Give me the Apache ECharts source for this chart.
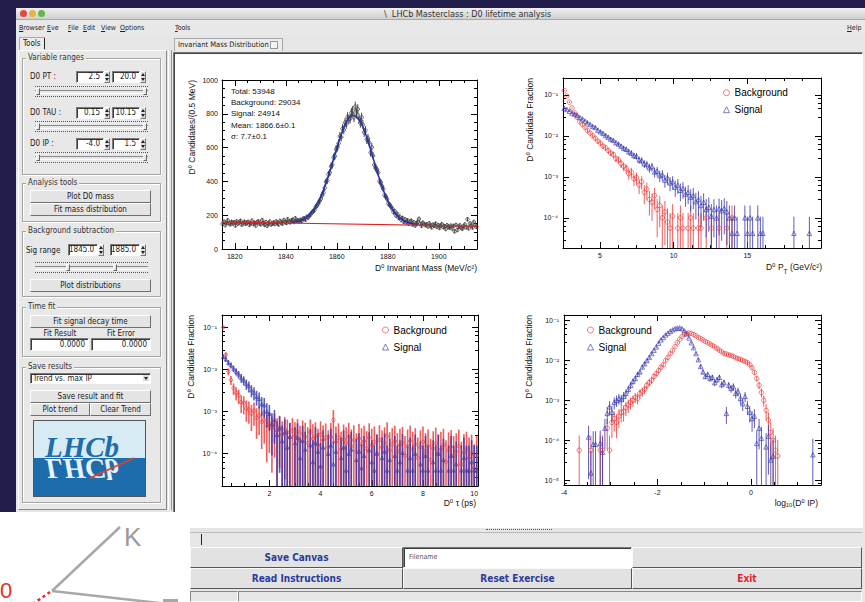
<!DOCTYPE html>
<html>
<head>
<meta charset="utf-8">
<title>LHCb Masterclass : D0 lifetime analysis</title>
<script src="https://cdn.jsdelivr.net/npm/echarts@6/dist/echarts.min.js"></script>
<style>
	body { margin: 0; width: 865px; height: 602px; position: relative; overflow: hidden; background: #221d4b;
		font-family: "Liberation Sans Narrow", "DejaVu Sans Condensed", "Liberation Sans", sans-serif; font-size: 8px; color: #222; }
	.abs { position: absolute; box-sizing: border-box; }
	.menu { position: absolute; top: 23px; line-height: 10px; font-size: 7px; color: #222; }
	.grp { position: absolute; box-sizing: border-box; border: 1px solid #a4a4a4; box-shadow: inset 1px 1px 0 #fff, 1px 1px 0 #fff; }
	.grp > span { position: absolute; top: -6px; left: 3px; background: #e8e8e8; padding: 0 2px; line-height: 10px; color: #333; }
	.btn { position: absolute; box-sizing: border-box; background: #e4e4e4; border: 1px solid; border-color: #fff #6e6e6e #6e6e6e #fff;
		text-align: center; color: #222; }
	.inp { position: absolute; box-sizing: border-box; background: #fff; border: 1px solid; border-color: #7a7a7a #fff #fff #7a7a7a;
		box-shadow: inset 1px 1px 0 #3c3c3c; text-align: right; padding-right: 3px; color: #222; }
	.spin { position: absolute; box-sizing: border-box; width: 6px; background: #e0e0e0; border: 1px solid; border-color: #fff #777 #777 #fff; }
	.spin::before, .spin::after { content: ""; position: absolute; left: 0; border-left: 2px solid transparent; border-right: 2px solid transparent; }
	.spin::before { top: 1px; border-bottom: 3px solid #222; }
	.spin::after { bottom: 1px; border-top: 3px solid #222; }
	.slider { position: absolute; height: 11px; border-top: 1px dotted #555; border-bottom: 1px dotted #555; box-sizing: border-box; }
	.slider::before { content: ""; position: absolute; left: 0; right: 0; top: 3px; height: 2px; border-top: 1px solid #888; border-bottom: 1px solid #fff; }
	.thumb { position: absolute; top: 1px; width: 4px; height: 7px; background: #e6e6e6; border: 1px solid; border-color: #fff #666 #666 #fff; box-sizing: border-box; }
	.bigbtn { position: absolute; box-sizing: border-box; background: #e2e2e2; border: 1px solid; border-color: #fafafa #555 #555 #fafafa;
		text-align: center; font-weight: bold; font-size: 10px; color: #2b3a9e; line-height: 19px; }
	.pad { position: absolute; }
</style>
</head>
<body>

<!-- window frame -->
<div class="abs" style="left:16px;top:8px;width:849px;height:594px;background:#e6e6e6"></div>
<div class="abs" style="left:16px;top:8px;width:849px;height:12px;background:linear-gradient(#efefef,#cfcfcf);border-bottom:1px solid #a8a8a8"></div>
<div class="abs" style="left:20px;top:10px;width:7px;height:7px;border-radius:50%;background:#e1493f"></div>
<div class="abs" style="left:29px;top:10px;width:7px;height:7px;border-radius:50%;background:#e6b43a"></div>
<div class="abs" style="left:38px;top:10px;width:7px;height:7px;border-radius:50%;background:#62b84c"></div>
<div class="abs" style="left:384px;top:9px;font-size:9px;line-height:10px;color:#333">\ &nbsp;LHCb Masterclass : D0 lifetime analysis</div>

<!-- menu bar -->
<div class="abs" style="left:16px;top:20px;width:849px;height:15px;background:#e8e8e8"></div>
<div class="menu" style="left:19px"><u>B</u>rowser</div>
<div class="menu" style="left:47px"><u>E</u>ve</div>
<div class="menu" style="left:68px"><u>F</u>ile</div>
<div class="menu" style="left:83px"><u>E</u>dit</div>
<div class="menu" style="left:101px"><u>V</u>iew</div>
<div class="menu" style="left:120px"><u>O</u>ptions</div>
<div class="menu" style="left:175px"><u>T</u>ools</div>
<div class="menu" style="left:847px"><u>H</u>elp</div>

<!-- left tool panel -->
<div class="abs" style="left:19px;top:37px;width:26px;height:13px;background:#ececec;border:1px solid #aaa;border-bottom:none;padding-left:3px;line-height:11px">Tools</div>
<div class="abs" style="left:44px;top:38px;width:1px;height:11px;background:#222"></div>
<div class="abs" style="left:18px;top:50px;width:149px;height:460px;background:#e8e8e8;border:1px solid;border-color:#fff #888 #888 #fff"></div>

<div class="grp" style="left:22px;top:58px;width:139px;height:117px"><span>Variable ranges</span></div>
<div class="abs" style="left:30px;top:72px;line-height:10px">D0 PT :</div>
<div class="inp" style="left:76px;top:71px;width:28px;height:12px;line-height:10px">2.5</div><div class="spin" style="left:104px;top:71px;height:12px"></div>
<div class="inp" style="left:112px;top:71px;width:28px;height:12px;line-height:10px">20.0</div><div class="spin" style="left:140px;top:71px;height:12px"></div>
<div class="slider" style="left:35px;top:86px;width:113px"><div class="thumb" style="left:1px"></div><div class="thumb" style="right:1px"></div></div>
<div class="abs" style="left:30px;top:108px;line-height:10px">D0 TAU :</div>
<div class="inp" style="left:76px;top:107px;width:28px;height:12px;line-height:10px">0.15</div><div class="spin" style="left:104px;top:107px;height:12px"></div>
<div class="inp" style="left:112px;top:107px;width:28px;height:12px;line-height:10px">10.15</div><div class="spin" style="left:140px;top:107px;height:12px"></div>
<div class="slider" style="left:35px;top:121px;width:113px"><div class="thumb" style="left:1px"></div><div class="thumb" style="right:1px"></div></div>
<div class="abs" style="left:30px;top:139px;line-height:10px">D0 IP :</div>
<div class="inp" style="left:76px;top:138px;width:28px;height:12px;line-height:10px">-4.0</div><div class="spin" style="left:104px;top:138px;height:12px"></div>
<div class="inp" style="left:112px;top:138px;width:28px;height:12px;line-height:10px">1.5</div><div class="spin" style="left:140px;top:138px;height:12px"></div>
<div class="slider" style="left:35px;top:152px;width:113px"><div class="thumb" style="left:1px"></div><div class="thumb" style="right:1px"></div></div>

<div class="grp" style="left:22px;top:183px;width:139px;height:39px"><span>Analysis tools</span></div>
<div class="btn" style="left:30px;top:190px;width:121px;height:13px;line-height:11px">Plot D0 mass</div>
<div class="btn" style="left:30px;top:203px;width:121px;height:13px;line-height:11px">Fit mass distribution</div>

<div class="grp" style="left:22px;top:231px;width:139px;height:66px"><span>Background subtraction</span></div>
<div class="abs" style="left:26px;top:246px;line-height:10px">Sig range</div>
<div class="inp" style="left:68px;top:244px;width:30px;height:12px;line-height:10px">1845.0</div><div class="spin" style="left:98px;top:244px;height:12px"></div>
<div class="inp" style="left:110px;top:244px;width:30px;height:12px;line-height:10px">1885.0</div><div class="spin" style="left:140px;top:244px;height:12px"></div>
<div class="slider" style="left:35px;top:262px;width:113px"><div class="thumb" style="left:31px"></div><div class="thumb" style="left:78px"></div></div>
<div class="btn" style="left:30px;top:279px;width:121px;height:13px;line-height:11px">Plot distributions</div>

<div class="grp" style="left:22px;top:307px;width:139px;height:50px"><span>Time fit</span></div>
<div class="btn" style="left:30px;top:315px;width:121px;height:13px;line-height:11px">Fit signal decay time</div>
<div class="abs" style="left:30px;top:329px;width:60px;text-align:center;line-height:9px">Fit Result</div>
<div class="abs" style="left:91px;top:329px;width:60px;text-align:center;line-height:9px">Fit Error</div>
<div class="inp" style="left:30px;top:338px;width:59px;height:13px;line-height:11px">0.0000</div>
<div class="inp" style="left:91px;top:338px;width:60px;height:13px;line-height:11px">0.0000</div>

<div class="grp" style="left:22px;top:367px;width:139px;height:136px"><span>Save results</span></div>
<div class="inp" style="left:30px;top:373px;width:121px;height:11px;line-height:9px;text-align:left;padding-left:2px">Trend vs. max IP</div>
<div class="abs" style="left:143px;top:375px;width:6px;height:6px;background:#ddd"><div class="abs" style="left:1px;top:2px;border-left:2px solid transparent;border-right:2px solid transparent;border-top:3px solid #222"></div></div>
<div class="btn" style="left:30px;top:390px;width:121px;height:13px;line-height:11px">Save result and fit</div>
<div class="btn" style="left:30px;top:403px;width:60px;height:13px;line-height:11px">Plot trend</div>
<div class="btn" style="left:90px;top:403px;width:61px;height:13px;line-height:11px">Clear Trend</div>
<svg class="abs" style="left:33px;top:420px" width="113" height="77">
	<rect x="0.5" y="0.5" width="112" height="76" fill="#d7ebf5" stroke="#555"/>
	<rect x="1" y="38" width="111" height="38" fill="#1d6dad"/>
	<text x="12" y="37" font-family="Liberation Serif, DejaVu Serif, serif" font-style="italic" font-weight="bold" font-size="29" fill="#1d6dad">LHCb</text>
	<text x="12" y="37" transform="matrix(1,0,0,-1,0,76)" font-family="Liberation Serif, DejaVu Serif, serif" font-style="italic" font-weight="bold" font-size="29" fill="#e8f2f8">LHCb</text>
	<line x1="57" y1="58" x2="101" y2="38" stroke="#e2402c" stroke-width="1.6"/>
</svg>

<!-- splitter -->
<div class="abs" style="left:168px;top:50px;width:4px;height:460px;border-left:1px solid #fff;border-right:1px solid #999"></div>

<!-- main tab + canvas -->
<div class="abs" style="left:174px;top:38px;width:109px;height:13px;background:#ececec;border:1px solid #aaa;border-bottom:none;padding-left:3px;line-height:11px;font-size:7.5px">Invariant Mass Distribution</div>
<div class="abs" style="left:270px;top:41px;width:8px;height:8px;border:1px solid #999;background:#f4f4f4"></div>
<div class="abs" style="left:173px;top:52px;width:690px;height:476px;background:#fff;border:1px solid;border-color:#7a7a7a #fff #fff #7a7a7a;box-shadow:inset 1px 1px 0 #444"></div>
<div id="padMass" class="pad" style="left:174px;top:55px;width:343px;height:235px"></div>
<div id="padPt" class="pad" style="left:517px;top:55px;width:344px;height:235px"></div>
<div id="padTau" class="pad" style="left:174px;top:290px;width:343px;height:236px"></div>
<div id="padIp" class="pad" style="left:517px;top:290px;width:344px;height:236px"></div>

<!-- lower GUI strip -->
<div class="abs" style="left:486px;top:529px;width:66px;height:3px;border-top:1px dotted #555"></div>
<div class="abs" style="left:190px;top:532px;width:672px;height:14px;border-top:1px solid #bbb"></div>
<div class="abs" style="left:201px;top:534px;width:1px;height:11px;background:#222"></div>
<div class="bigbtn" style="left:190px;top:547px;width:213px;height:21px">Save Canvas</div>
<div class="inp" style="left:403px;top:547px;width:229px;height:21px;text-align:left;padding-left:5px;line-height:19px;font-size:7px;color:#555">Filename</div>
<div class="bigbtn" style="left:632px;top:547px;width:230px;height:21px"></div>
<div class="bigbtn" style="left:190px;top:568px;width:213px;height:21px">Read Instructions</div>
<div class="bigbtn" style="left:403px;top:568px;width:229px;height:21px">Reset Exercise</div>
<div class="bigbtn" style="left:632px;top:568px;width:230px;height:21px;color:#e3222b">Exit</div>
<div class="abs" style="left:190px;top:591px;width:48px;height:11px;border:1px solid;border-color:#888 #fff #fff #888"></div>
<div class="abs" style="left:238px;top:591px;width:624px;height:11px;border:1px solid;border-color:#888 #fff #fff #888"></div>

<!-- slide fragment in the lower left corner -->
<svg class="abs" style="left:0;top:512px" width="190" height="90">
	<rect width="190" height="90" fill="#fff"/>
	<line x1="52" y1="79" x2="120" y2="15" stroke="#a8a8a8" stroke-width="2.5"/>
	<line x1="52" y1="79" x2="168" y2="92" stroke="#a8a8a8" stroke-width="2.5"/>
	<line x1="50" y1="80" x2="30" y2="94" stroke="#e03030" stroke-width="2.5" stroke-dasharray="3 3"/>
	<text x="124" y="34" font-family="Liberation Sans, sans-serif" font-size="26" fill="#9a9a9a">K</text>
	<text x="0" y="86" font-family="Liberation Sans, sans-serif" font-size="22" fill="#e03030">0</text>
	<rect x="163" y="87" width="15" height="3" fill="#a8a8a8"/>
</svg>

<script>
// ---- values ----

// D0 invariant mass, 0.5 MeV bins from 1815 to 1915
const massStart = 1815
const massBinWidth = 0.5
const massCounts = [
	148, 162, 141, 155, 170, 152, 146, 160, 151, 158, 139, 163, 150, 157, 166, 144, 153, 161, 149, 156,
	160, 143, 152, 167, 148, 155, 139, 158, 164, 150, 146, 171, 153, 142, 159, 137, 151, 162, 145, 149,
	157, 148, 163, 152, 145, 166, 158, 150, 171, 160, 154, 176, 162, 158, 169, 173, 160, 181, 166, 170,
	163, 172, 166, 178, 181, 174, 190, 186, 197, 205, 216, 223, 231, 249, 256, 270, 283, 297, 318, 334,
	361, 397, 405, 441, 452, 489, 498, 541, 549, 590, 601, 625, 667, 662, 712, 705, 748, 739, 781, 768,
	771, 806, 818, 779, 843, 801, 828, 772, 745, 779, 736, 690, 701, 648, 655, 629, 571, 602, 552, 497,
	479, 471, 452, 401, 396, 372, 355, 318, 311, 296, 269, 262, 251, 239, 218, 224, 198, 207, 185, 190,
	172, 183, 161, 176, 158, 170, 149, 163, 167, 145, 158, 139, 152, 161, 178, 150, 137, 156, 148, 141,
	146, 133, 152, 139, 128, 144, 137, 150, 131, 142, 124, 139, 147, 129, 135, 118, 141, 132, 126, 138,
	121, 137, 104, 143, 112, 131, 140, 126, 119, 134, 145, 128, 176, 122, 151, 139, 127, 160, 142, 131,
]
const massFitX = [1842, 1844, 1846, 1848, 1850, 1852, 1854, 1856, 1858, 1860, 1862, 1864, 1866,
	1868, 1870, 1872, 1874, 1876, 1878, 1880, 1882, 1884, 1886, 1888, 1890, 1892]
const massFitY = [157, 161, 170, 187, 214, 258, 319, 400, 495, 596, 688, 757, 790,
	781, 731, 650, 551, 451, 360, 286, 231, 193, 169, 155, 148, 144]
const massBkgX = [1815, 1915]
const massBkgY = [160, 135]
const massStats = ["Total: 53948", "Background: 29034", "Signal: 24914", "Mean: 1866.6\u00b10.1", "\u03c3: 7.7\u00b10.1"]

// D0 pT, 0.175 GeV bins from 2.5
const ptStart = 2.5
const ptBinWidth = 0.175
const ptBkg = [
	0.126, 9.3e-2, 6.6e-2, 4.8e-2, 3.6e-2, 2.8e-2, 2.2e-2, 1.9e-2, 1.6e-2, 1.35e-2,
	1.17e-2, 1.0e-2, 8.7e-3, 7.4e-3, 6.6e-3, 5.6e-3, 5.1e-3, 4.4e-3, 3.8e-3, 3.5e-3,
	2.8e-3, 2.6e-3, 2.1e-3, 1.8e-3, 1.6e-3, 1.2e-3, 1.3e-3, 8.9e-4, 9.5e-4, 6.3e-4,
	7.6e-4, 4.2e-4, 5.0e-4, 2.8e-4, 2.4e-4, 3.5e-4, 1.6e-4, 2.0e-4, 1.0e-4, 1.4e-4,
	7.9e-5, 5.6e-5, 1.1e-4, null, 5.6e-5, 1.0e-4, 5.6e-5, null, 5.6e-5, 1.0e-4,
	5.6e-5, null, 5.6e-5, 5.6e-5, null, 1.0e-4, null, 5.6e-5, null, null,
	5.6e-5, null, null, 5.6e-5, null, 1.0e-4,
]
const ptSig = [
	4.7e-2, 4.4e-2, 4.0e-2, 3.6e-2, 3.4e-2, 3.2e-2, 2.8e-2, 2.6e-2, 2.3e-2, 2.1e-2,
	1.9e-2, 1.7e-2, 1.6e-2, 1.38e-2, 1.26e-2, 1.15e-2, 1.02e-2, 9.3e-3, 8.3e-3, 7.8e-3,
	6.8e-3, 6.3e-3, 5.6e-3, 5.0e-3, 4.7e-3, 4.1e-3, 3.8e-3, 3.3e-3, 3.2e-3, 2.6e-3,
	2.5e-3, 2.1e-3, 2.0e-3, 1.66e-3, 1.78e-3, 1.32e-3, 1.38e-3, 1.07e-3, 1.12e-3, 8.3e-4,
	9.5e-4, 7.1e-4, 7.6e-4, 5.6e-4, 6.3e-4, 4.7e-4, 5.2e-4, 3.8e-4, 4.2e-4, 3.2e-4,
	3.5e-4, 2.5e-4, 2.8e-4, 2.0e-4, 2.4e-4, 1.6e-4, 1.8e-4, 1.1e-4, 1.6e-4, 1.0e-4,
	1.66e-4, 1.5e-4, 1.7e-4, 1.4e-4, 1.0e-4, 4.2e-5, 1.0e-4, 4.2e-5, null, null,
	1.0e-4, 4.2e-5, 1.0e-4, 4.2e-5, null, 1.0e-4, 4.2e-5, 4.2e-5, null, null,
	null, null, null, null, null, null, null, null, null, 4.2e-5,
	null, null, null, null, null, 4.2e-5,
]

// D0 decay time, 0.1 ps bins from 0.15
const tauStart = 0.15
const tauBinWidth = 0.1
const tauBkg = [
	1.0e-1, 2.24e-2, 8.9e-3, 5.6e-3, 3.55e-3, 2.8e-3, 2.4e-3, 1.66e-3, 1.58e-3, 1.2e-3,
	1.12e-3, 8.9e-4, 1.05e-3, 7.1e-4, 7.9e-4, 5.6e-4, 6.3e-4, 4.5e-4, 5.2e-4, 4.0e-4,
	4.8e-4, 3.5e-4, 4.2e-4, 2.8e-4, 3.8e-4, 3.2e-4, 2.4e-4, 3.5e-4, 2.6e-4, 3.3e-4,
	2.0e-4, 3.0e-4, 2.5e-4, 1.78e-4, 3.2e-4, 2.24e-4, 2.6e-4, 1.58e-4, 2.8e-4, 2.1e-4,
	2.4e-4, 1.41e-4, 2.5e-4, 6.3e-4, 1.9e-4, 2.4e-4, 1.26e-4, 2.2e-4, 1.78e-4, 2.5e-4,
	1.5e-4, 2.1e-4, 1.12e-4, 2.3e-4, 1.66e-4, 2.0e-4, 1.32e-4, 2.4e-4, 1.58e-4, 1.9e-4,
	1.0e-4, 2.1e-4, 1.41e-4, 1.78e-4, 2.6e-4, 1.2e-4, 1.66e-4, 2.0e-4, 1.12e-4, 1.58e-4,
	1.82e-4, 8.9e-5, 1.5e-4, 2.0e-4, 1.26e-4, 1.66e-4, 7.9e-5, 1.41e-4, 1.9e-4, 1.12e-4,
	1.5e-4, 7.1e-5, 1.32e-4, 1.74e-4, 1.0e-4, 1.26e-4, 1.58e-4, 6.3e-5, 1.2e-4, 1.45e-4,
	8.9e-5, 1.12e-4, 1.5e-4, 5.6e-5, 1.05e-4, 1.26e-4, 7.9e-5, 1.0e-4, 4.5e-5, 8.9e-5,
]
const tauSig = [
	2.0e-2, 1.74e-2, 1.45e-2, 1.26e-2, 1.05e-2, 8.9e-3, 7.6e-3, 6.3e-3, 5.5e-3, 4.5e-3,
	4.0e-3, 3.2e-3, 2.8e-3, 2.24e-3, 2.0e-3, 1.5e-3, 1.41e-3, 1.0e-3, 8.9e-4, 5.0e-4,
	6.3e-4, 2.8e-4, 4.0e-4, 2.0e-4, 3.2e-4, 1.41e-4, 2.5e-4, null, 1.78e-4, 2.4e-4,
	7.9e-5, 2.0e-4, 1.26e-4, null, 1.58e-4, 6.3e-5, 1.78e-4, 1.12e-4, 5.0e-5, 1.41e-4,
	null, 1.0e-4, 1.58e-4, 5.6e-5, 1.12e-4, null, 7.9e-5, 1.41e-4, 4.0e-5, 1.0e-4,
	1.26e-4, null, 7.1e-5, 1.12e-4, 4.5e-5, 8.9e-5, null, 1.2e-4, 6.3e-5, 4.0e-5,
	1.0e-4, null, 7.9e-5, 1.12e-4, 4.0e-5, 7.1e-5, null, 8.9e-5, 4.0e-5, 6.3e-5,
	1.05e-4, null, 4.0e-5, 7.9e-5, 4.0e-5, 1.0e-4, null, 5.6e-5, 4.0e-5, 8.9e-5,
	4.0e-5, null, 6.3e-5, 4.0e-5, 1.0e-4, 4.0e-5, 7.1e-5, null, 4.0e-5, 8.9e-5,
	4.0e-5, 5.6e-5, null, 4.0e-5, 7.9e-5, 4.0e-5, 4.0e-5, 6.3e-5, 4.0e-5, 4.0e-5,
]

// log10 of the D0 impact parameter, 0.05 bins from -4
const ipStart = -4
const ipBinWidth = 0.05
const ipBkg = [
	null, null, null, null, null, null, 5.6e-5, null, null, null,
	null, 5.6e-5, null, null, null, 5.6e-5, 5.6e-5, null, 2.0e-4, 5.6e-5,
	2.8e-4, 3.5e-4, 2.8e-4, 4.0e-4, 5.0e-4, 5.2e-4, 6.6e-4, 7.6e-4, 8.9e-4, 1.0e-3,
	1.2e-3, 1.12e-3, 1.5e-3, 1.66e-3, 1.9e-3, 2.4e-3, 2.8e-3, 3.2e-3, 4.0e-3, 4.7e-3,
	5.6e-3, 6.8e-3, 7.9e-3, 1.0e-2, 1.2e-2, 1.5e-2, 1.78e-2, 2.24e-2, 2.8e-2, 3.4e-2,
	4.0e-2, 4.5e-2, 4.8e-2, 4.9e-2, 4.8e-2, 4.5e-2, 4.2e-2, 3.8e-2, 3.55e-2, 3.3e-2,
	3.0e-2, 2.8e-2, 2.6e-2, 2.4e-2, 2.2e-2, 2.0e-2, 1.82e-2, 1.66e-2, 1.5e-2, 1.45e-2,
	1.38e-2, 1.35e-2, 1.26e-2, 1.17e-2, 1.12e-2, 1.07e-2, 1.0e-2, 9.5e-3, 8.9e-3, 7.9e-3,
	6.6e-3, 5.0e-3, 3.55e-3, 2.4e-3, 1.58e-3, 1.0e-3, 5.6e-4, 3.2e-4, 1.58e-4, 1.0e-4,
	5.6e-5, 4.0e-5,
]
const ipSig = [
	null, null, null, null, null, null, null, null, null, null,
	1.2e-4, 1.5e-5, 7.9e-5, 7.9e-5, null, 8.3e-5, 5.0e-5, 2.0e-4, 4.7e-4, 6.9e-4,
	5.0e-4, 8.9e-4, 1.0e-3, 1.12e-3, 1.05e-3, 1.26e-3, 1.5e-3, 1.9e-3, 2.4e-3, 3.0e-3,
	3.55e-3, 4.5e-3, 5.2e-3, 6.9e-3, 8.3e-3, 1.0e-2, 1.2e-2, 1.5e-2, 1.82e-2, 2.2e-2,
	2.75e-2, 3.3e-2, 3.8e-2, 4.4e-2, 4.9e-2, 5.4e-2, 5.9e-2, 6.3e-2, 6.5e-2, 6.6e-2,
	6.3e-2, 5.6e-2, 4.7e-2, 3.7e-2, 2.8e-2, 2.1e-2, 1.5e-2, 1.05e-2, 7.1e-3, 5.2e-3,
	4.0e-3, 4.5e-3, 3.55e-3, 3.8e-3, 2.8e-3, 3.3e-3, 3.8e-3, 2.5e-3, 2.8e-3, 4.7e-4,
	2.4e-3, 2.0e-3, 2.2e-3, 1.5e-3, 1.66e-3, 1.12e-3, 8.3e-4, 1.26e-3, 7.1e-4, 5.0e-4,
	3.5e-4, 4.0e-4, 8.3e-5, 2.0e-4, 1.12e-4, null, 6.8e-5, 1.26e-4, 3.2e-5, 4.0e-5,
	null, null, null, null, null, null, null, null, null, null,
	null, null, null, null, null, null, 4.3e-5,
]

// effective entries of the sideband-subtracted histograms, sets the error bar size
const ptEntries = 1e4
const tauEntries = 3e3
const ipEntries = 1e4

// ---- drawing ----
const FONT = '"Liberation Sans", Arial, "DejaVu Sans", sans-serif'
const RED = "rgba(236, 52, 52, 0.8)"
const BLUE = "rgba(52, 52, 172, 0.8)"
const SUP = { "-": "\u207b", "0": "\u2070", "1": "\u00b9", "2": "\u00b2", "3": "\u00b3", "4": "\u2074", "5": "\u2075" }

function powerLabel(v) {
	const p = Math.log10(v)
	if (Math.abs(p - Math.round(p)) > 1e-6) return ""
	return "10" + String(Math.round(p)).split("").map((c) => SUP[c]).join("")
}

function binned(values, start, width) {
	const out = []
	values.forEach((v, i) => {
		if (v !== null) out.push([start + width * (i + 0.5), v])
	})
	return out
}

function withErrors(points, errOf, lo, hi) {
	return points.map(([x, v]) => {
		const e = errOf(v)
		return [x, Math.max(v - e, lo), Math.min(v + e, hi)]
	})
}

function errorBars(data, color, width) {
	return {
		type: "custom",
		silent: true,
		clip: true,
		z: 1,
		data: data,
		encode: { x: 0, y: [1, 2] },
		renderItem: (params, api) => {
			const a = api.coord([api.value(0), api.value(1)])
			const b = api.coord([api.value(0), api.value(2)])
			return {
				type: "line",
				shape: { x1: a[0], y1: a[1], x2: b[0], y2: b[1] },
				style: { stroke: color, lineWidth: width || 1 },
			}
		},
	}
}

function markers(name, data, symbol, size, color) {
	return {
		name: name,
		type: "scatter",
		data: data,
		symbol: symbol,
		symbolSize: size,
		silent: true,
		z: 2,
		itemStyle: { color: "rgba(255,255,255,0)", borderColor: color, borderWidth: 1 },
	}
}

function frameAxis(type, pos, min, max, split, label) {
	return {
		type: type,
		position: pos,
		min: min,
		max: max,
		splitNumber: split,
		axisLine: { show: true, onZero: false, lineStyle: { color: "#000", width: 1 } },
		axisTick: { show: true, inside: true, length: 6, lineStyle: { color: "#000" } },
		minorTick: { show: true, splitNumber: type === "log" ? 5 : 4, length: 3, lineStyle: { color: "#000" } },
		splitLine: { show: false },
		axisLabel: label
			? Object.assign({ color: "#111", fontSize: 7, fontFamily: FONT, margin: 4, showMinLabel: false, showMaxLabel: false,
				formatter: (v) => String(v) }, label)
			: { show: false },
	}
}

function titleText(text, x, y, vertical) {
	return {
		type: "text",
		x: x,
		y: y,
		rotation: vertical ? Math.PI / 2 : 0,
		silent: true,
		style: {
			text: text,
			fill: "#111",
			fontSize: 8.5,
			fontFamily: FONT,
			align: "right",
			verticalAlign: "middle",
			rich: { s: { fontSize: 6.5, fontFamily: FONT, fill: "#111", lineHeight: 15, verticalAlign: "bottom" } },
		},
	}
}

function legendAt(left, top) {
	return {
		orient: "vertical",
		left: left,
		top: top,
		padding: 0,
		itemWidth: 6,
		itemHeight: 6,
		itemGap: 5,
		selectedMode: false,
		itemStyle: { borderWidth: 1 },
		textStyle: { fontSize: 10, fontFamily: FONT, color: "#000", lineHeight: 12 },
		data: ["Background", "Signal"],
	}
}

function pad(id, option) {
	const chart = echarts.init(document.getElementById(id), null, { renderer: "svg" })
	chart.setOption(Object.assign({ animation: false, backgroundColor: "transparent" }, option))
	return chart
}

// invariant mass
const massPoints = massCounts.map((n, i) => [massStart + massBinWidth * (i + 0.5), n])
pad("padMass", {
	grid: { left: 48, top: 25, width: 255, height: 169, containLabel: false, outerBoundsMode: "none" },
	xAxis: [
		frameAxis("value", "bottom", 1815, 1915, 5, {}),
		frameAxis("value", "top", 1815, 1915, 5, null),
	],
	yAxis: [
		frameAxis("value", "left", 0, 1000, 5, { showMinLabel: true, showMaxLabel: true }),
		frameAxis("value", "right", 0, 1000, 5, null),
	],
	series: [
		errorBars(withErrors(massPoints, Math.sqrt, 0, 1000), "#444"),
		markers("Data", massPoints, "circle", 3.5, "#444"),
		{
			type: "line",
			data: massFitX.map((x, i) => [x, massFitY[i]]),
			smooth: 0.4,
			showSymbol: false,
			silent: true,
			z: 3,
			lineStyle: { color: "#2233b4", width: 1.5 },
		},
		{
			type: "line",
			data: massBkgX.map((x, i) => [x, massBkgY[i]]),
			showSymbol: false,
			silent: true,
			z: 4,
			lineStyle: { color: "#e42222", width: 1.2 },
		},
	],
	graphic: [
		titleText("D\u2070 Candidates/(0.5 MeV)", 17.7, 25, true),
		titleText("D\u2070 Invariant Mass (MeV/c\u00b2)", 303, 213, false),
	].concat(massStats.map((t, i) => ({
		type: "text",
		x: 57,
		y: 36 + i * 11.4,
		silent: true,
		style: { text: t, fill: "#111", fontSize: 8, fontFamily: FONT, align: "left", verticalAlign: "middle" },
	}))),
})

// fraction plots
function fractionPad(id, cfg) {
	const bkg = binned(cfg.bkg, cfg.start, cfg.width)
	const sig = binned(cfg.sig, cfg.start, cfg.width)
	const errOf = (v) => Math.sqrt(v / cfg.entries)
	return pad(id, {
		grid: Object.assign({ containLabel: false, outerBoundsMode: "none" }, cfg.grid),
		legend: cfg.legend,
		xAxis: [
			frameAxis("value", "bottom", cfg.xMin, cfg.xMax, cfg.xSplit, cfg.xLabel || {}),
			frameAxis("value", "top", cfg.xMin, cfg.xMax, cfg.xSplit, null),
		],
		yAxis: [
			frameAxis("log", "left", cfg.yMin, cfg.yMax, 5, { formatter: powerLabel, margin: 5 }),
			frameAxis("log", "right", cfg.yMin, cfg.yMax, 5, null),
		],
		series: [
			errorBars(withErrors(bkg, errOf, cfg.yMin, cfg.yMax), RED, cfg.barWidth),
			errorBars(withErrors(sig, errOf, cfg.yMin, cfg.yMax), BLUE, cfg.barWidth),
			markers("Background", bkg, "circle", cfg.size, RED),
			markers("Signal", sig, "triangle", cfg.size, BLUE),
		],
		graphic: [
			titleText("D\u2070 Candidate Fraction", cfg.yTitle[0], cfg.yTitle[1], true),
			titleText(cfg.xTitle, cfg.xTitlePos[0], cfg.xTitlePos[1], false),
		],
	})
}

fractionPad("padPt", {
	bkg: ptBkg, sig: ptSig, start: ptStart, width: ptBinWidth, entries: ptEntries,
	grid: { left: 46, top: 23, width: 258, height: 170 },
	xMin: 2.5, xMax: 20, xSplit: 3, yMin: 1.84e-5, yMax: 0.257, size: 4.5,
	legend: legendAt(206, 31.7),
	yTitle: [13, 23], xTitle: "D\u2070 P{s|T} (GeV/c\u00b2)", xTitlePos: [305, 212],
})

fractionPad("padTau", {
	bkg: tauBkg, sig: tauSig, start: tauStart, width: tauBinWidth, entries: tauEntries, barWidth: 1.6,
	grid: { left: 48, top: 25, width: 256, height: 171 },
	xMin: 0.15, xMax: 10.15, xSplit: 5, yMin: 1.7e-5, yMax: 0.196, size: 3.5,
	legend: legendAt(208, 34),
	yTitle: [16.7, 25], xTitle: "D\u2070 \u03c4 (ps)", xTitlePos: [302, 213],
})

fractionPad("padIp", {
	bkg: ipBkg, sig: ipSig, start: ipStart, width: ipBinWidth, entries: ipEntries,
	grid: { left: 47, top: 25, width: 257, height: 170 },
	xMin: -4, xMax: 1.5, xSplit: 3, xLabel: { showMinLabel: true }, yMin: 7.5e-6, yMax: 0.139, size: 4.5,
	legend: legendAt(70, 34),
	yTitle: [12.3, 25], xTitle: "log\u2081\u2080(D\u2070 IP)", xTitlePos: [301, 213],
})
</script>
</body>
</html>
